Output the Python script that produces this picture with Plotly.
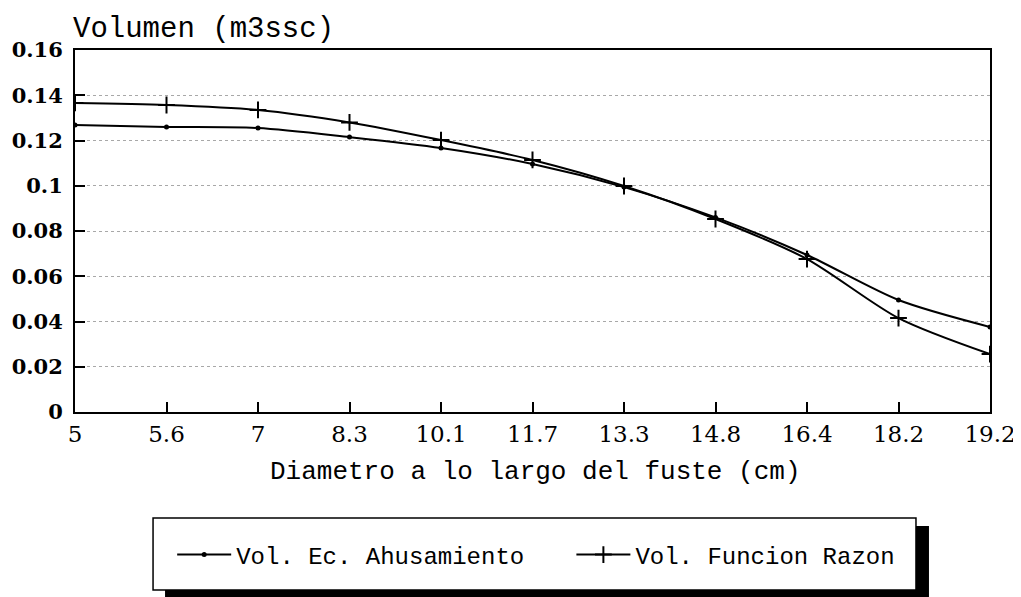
import plotly.graph_objects as go

diametros = ["5", "5.6", "7", "8.3", "10.1", "11.7", "13.3", "14.8", "16.4", "18.2", "19.2"]
vol_ahusamiento = [0.1268, 0.1260, 0.1255, 0.1215, 0.1167, 0.1096, 0.0994, 0.0860, 0.0694, 0.0495, 0.0376]
vol_razon = [0.1366, 0.1357, 0.1335, 0.1280, 0.1202, 0.1114, 0.0999, 0.0853, 0.0676, 0.0415, 0.0256]

fig = go.Figure()
fig.add_trace(
    go.Scatter(
        x=diametros,
        y=vol_ahusamiento,
        mode="lines+markers",
        name="Vol. Ec. Ahusamiento",
        legend="legend",
        line=dict(color="black", width=2, shape="spline", smoothing=0.8),
        marker=dict(symbol="circle", size=5, color="black"),
    )
)
fig.add_trace(
    go.Scatter(
        x=diametros,
        y=vol_razon,
        mode="lines+markers",
        name="Vol. Funcion Razon",
        legend="legend2",
        line=dict(color="black", width=2, shape="spline", smoothing=0.8),
        marker=dict(symbol="cross-thin", size=12, color="black",
                    line=dict(color="black", width=2)),
    )
)

# legend frame and its drop shadow (paper coords)
fig.add_shape(type="rect", xref="paper", yref="paper",
              x0=0.0984, x1=0.9333, y0=-0.3149, y1=-0.52,
              fillcolor="black", line=dict(width=0), layer="below")
fig.add_shape(type="rect", xref="paper", yref="paper",
              x0=0.0853, x1=0.9191, y0=-0.2928, y1=-0.4917,
              fillcolor="white", line=dict(color="black", width=1.5), layer="below")

fig.add_annotation(text="Volumen (m3ssc)", xref="paper", yref="paper",
                   x=-0.004, y=1.058, xanchor="left", yanchor="middle", showarrow=False,
                   font=dict(family="Liberation Mono", size=29, color="black"))
fig.add_annotation(text="Diametro a lo largo del fuste (cm)", xref="paper", yref="paper",
                   x=0.503, y=-0.165, xanchor="center", yanchor="middle", showarrow=False,
                   font=dict(family="Liberation Mono", size=26, color="black"))

legend_style = dict(
    orientation="h", xanchor="left", yanchor="middle", y=-0.395,
    bgcolor="rgba(0,0,0,0)",
    font=dict(family="Liberation Mono", size=24, color="black"),
    itemwidth=54,
)

fig.update_layout(
    width=1013,
    height=589,
    margin=dict(l=67, r=31, t=42, b=185, autoexpand=False),
    paper_bgcolor="white",
    plot_bgcolor="white",
    showlegend=True,
    legend=dict(x=0.1062, **legend_style),
    legend2=dict(x=0.5425, **legend_style),
    xaxis=dict(
        type="category",
        range=[0, 10],
        showline=True, linecolor="black", linewidth=2, mirror=True,
        ticks="inside", ticklen=10, tickwidth=1.5, tickcolor="black",
        showgrid=False, zeroline=False, automargin=False,
        tickfont=dict(family="DejaVu Serif", size=23, color="black"),
    ),
    yaxis=dict(
        range=[0, 0.16],
        dtick=0.02,
        showline=True, linecolor="black", linewidth=2, mirror=True,
        ticks="inside", ticklen=10, tickwidth=1.5, tickcolor="black",
        ticklabelstandoff=6,
        showgrid=True, gridcolor="#a8a8a8", griddash="dot", gridwidth=1,
        zeroline=False, automargin=False,
        tickfont=dict(family="DejaVu Serif", size=21, color="black", weight="bold"),
    ),
)

fig.write_html("out.html")
